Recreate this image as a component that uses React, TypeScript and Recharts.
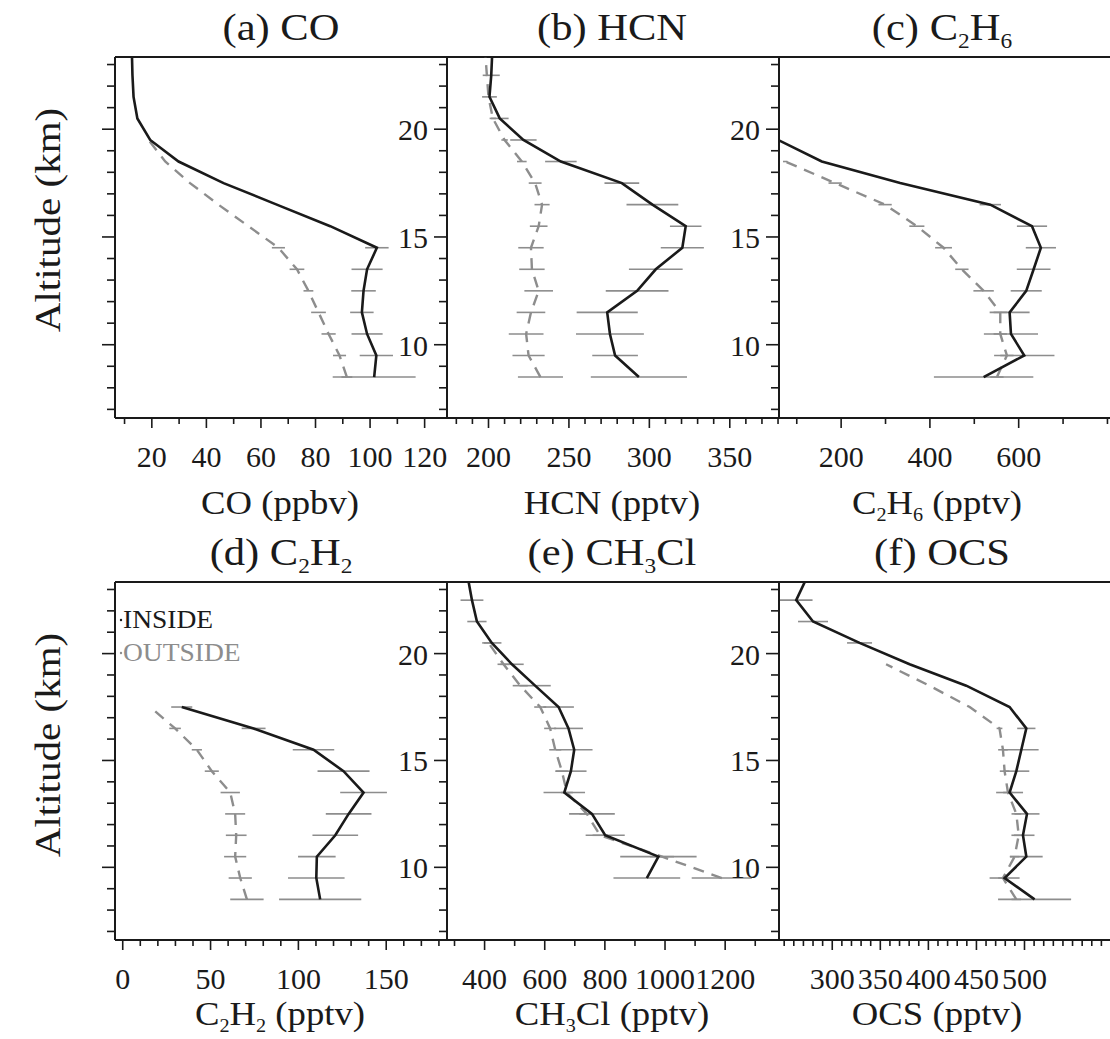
import { ScatterChart, Scatter, XAxis, YAxis, ErrorBar } from "recharts";

// altitude levels (km), bottom to top
const ALT = [8.5, 9.5, 10.5, 11.5, 12.5, 13.5, 14.5, 15.5, 16.5, 17.5, 18.5, 19.5, 20.5, 21.5, 22.5, 23.5];
const ALT_TICKS = [7, 8, 9, 10, 11, 12, 13, 14, 15, 16, 17, 18, 19, 20, 21, 22, 23];
const ALT_MAJOR = [10, 15, 20];
const ALT_DOMAIN: [number, number] = [6.6, 23.35];

// (a) CO, ppbv
const CO_IN = [101.5, 102.3, 98.9, 97, 97.6, 98.9, 102.5, 85.4, 65.8, 46.3, 29.8, 19.4, 14.7, 13.3, 12.9, 12.7];
const CO_IN_ERR = [15.2, 6.1, 5.7, 4.3, 4.5, 5.7, 4.3, 0, 0, 0, 0, 0, 0, 0, 0, 0];
const CO_OUT = [91.5, 88.8, 84.8, 81.1, 77.4, 73.2, 66.4, 55.4, 44.4, 34, 24.9, 18.8, null, null, null, null];
const CO_OUT_ERR = [2, 2.4, 2.6, 2.7, 1.8, 2.7, 2.4, 0, 0, 0, 0, 0, 0, 0, 0, 0];

// (b) HCN, pptv
const HCN_IN = [293.5, 278.7, 275.5, 273.8, 292.4, 304, 320.5, 322.6, 301.9, 282.9, 245, 221.7, 207, 200.6, 201.7, 202.3];
const HCN_IN_ERR = [29.9, 14.2, 21.1, 19, 19.5, 16.7, 13.4, 9.8, 16.1, 10.8, 9.8, 8.2, 5.5, 4.6, 5.3, 0];
const HCN_OUT = [232.3, 224.9, 223.4, 226.4, 231.2, 227, 226.4, 231.2, 233.3, 229, 220.7, 210, 202.7, 200, 199, 198];
const HCN_OUT_ERR = [14, 10, 10.8, 8.9, 8.9, 7.9, 7.9, 5.5, 4.7, 4, 3, 2, 2, 0, 0, 0];

// (c) C2H6, pptv
const C2H6_IN = [521, 612.6, 582.6, 579.6, 617, 633.7, 650, 630, 536, 333, 156.4, 58, null, null, null, null];
const C2H6_IN_ERR = [112, 68, 61, 45, 35, 38, 34, 34, 24, 0, 0, 0, 0, 0, 0, 0];
const C2H6_OUT = [551, 573.5, 558.5, 558.5, 521, 472, 430.7, 370.6, 299, 186.5, 74, null, null, null, null, null];
const C2H6_OUT_ERR = [15, 15, 15, 15, 23, 15, 19, 17, 15, 15, 5, 0, 0, 0, 0, 0];

// (d) C2H2, pptv
const C2H2_IN = [112.4, 110.2, 110.5, 121, 128.6, 137.1, 125.7, 108.6, 74.5, 33.6, null, null, null, null, null, null];
const C2H2_IN_ERR = [23.4, 16.1, 10.7, 13, 13, 13.3, 14.8, 11.8, 6.8, 6, 0, 0, 0, 0, 0, 0];
const C2H2_OUT = [70.7, 66.9, 64, 64.6, 64, 61.2, 50.7, 42.2, 29.8, 15.6, null, null, null, null, null, null];
const C2H2_OUT_ERR = [9.5, 6.6, 6.3, 5.9, 5.7, 5.5, 4, 2.9, 3.3, 0, 0, 0, 0, 0, 0, 0];

// (e) CH3Cl, pptv
const CH3CL_IN = [null, 939.5, 978, 801, 757, 665, 687, 698, 679, 646, 568, 491, 424, 374.5, 358, 345];
const CH3CL_IN_ERR = [0, 111, 127, 65, 76, 69, 52, 61, 48, 51, 52, 39, 32, 32, 38, 0];
const CH3CL_OUT = [null, 1188.7, 990, 784, 740, 673.6, 657, 635, 618, 585, 518.5, 463, 413, null, null, null];
const CH3CL_OUT_ERR = [0, 100, 40, 25, 25, 20, 20, 20, 20, 20, 25, 20, 15, 0, 0, 0];

// (f) OCS, pptv
const OCS_IN = [510.5, 479.3, 501.9, 498.4, 502.6, 484.5, 491.5, 496.7, 501.9, 484.5, 439.4, 380.5, 328.4, 280, 262.5, 273];
const OCS_IN_ERR = [38, 15.6, 17, 12, 13, 14, 13.5, 18, 9.5, 0, 0, 0, 13, 15.6, 17, 0];
const OCS_OUT = [491.5, 477.6, 489.7, 494, 491.5, 482.8, 479.3, 477.6, 474, 443, 401, 356, null, null, null, null];
const OCS_OUT_ERR = [5, 5, 5, 5, 5, 5, 5, 5, 3, 0, 0, 0, 0, 0, 0, 0];

const TITLES = ["(a) CO", "(b) HCN", "(c) C_2H_6", "(d) C_2H_2", "(e) CH_3Cl", "(f) OCS"];
const X_TITLES = ["CO (ppbv)", "HCN (pptv)", "C_2H_6 (pptv)", "C_2H_2 (pptv)", "CH_3Cl (pptv)", "OCS (pptv)"];
const Y_TITLE = "Altitude (km)";
const LEGEND = ["INSIDE", "OUTSIDE"];

const INK = "#1a1a1a";
const GRAY = "#8d8d8d";
const FONT = "'Liberation Serif', 'Times New Roman', serif";

const range = (a: number, b: number, s: number) => {
  const out: number[] = [];
  for (let v = a; v <= b + 1e-9; v += s) out.push(Math.round(v * 100) / 100);
  return out;
};

const series = (vals: (number | null)[], errs: number[]) =>
  ALT.map((alt, i) => ({ alt, v: vals[i], err: errs[i] })).filter((p) => p.v != null);

const bottomTick = (majors: number[]) => (p: any) => {
  const v = p.payload.value;
  const major = majors.includes(v);
  return (
    <g>
      <line x1={p.x} x2={p.x} y1={p.y} y2={p.y + (major ? 10 : 6)} stroke={INK} strokeWidth={1.6} />
      {major ? (
        <text x={p.x} y={p.y + 49} textAnchor="middle" fontSize={30} fontFamily={FONT} fill={INK}>
          {v}
        </text>
      ) : null}
    </g>
  );
};

const topTick = (majors: number[]) => (p: any) => {
  const major = majors.includes(p.payload.value);
  return <line x1={p.x} x2={p.x} y1={p.y} y2={p.y - (major ? 8 : 5)} stroke={INK} strokeWidth={1.6} />;
};

const leftTick = (labels: boolean) => (p: any) => {
  const v = p.payload.value;
  const major = ALT_MAJOR.includes(v);
  return (
    <g>
      <line x1={p.x} x2={p.x - (major ? 13 : 8)} y1={p.y} y2={p.y} stroke={INK} strokeWidth={1.6} />
      {labels && major ? (
        <text x={p.x - 19} y={p.y + 11} textAnchor="end" fontSize={30} fontFamily={FONT} fill={INK}>
          {v}
        </text>
      ) : null}
    </g>
  );
};

type Pt = { alt: number; v: number | null; err: number };

type PanelProps = {
  left: number;
  top: number;
  h: number;
  domain: [number, number];
  ticks: number[];
  majors: number[];
  yLabels: boolean;
  inside: Pt[];
  outside: Pt[];
};

const W = 332;
const ML = 70;
const MR = 6;
const MT = 20;
const MB = 60;

function Panel({ left, top, h, domain, ticks, majors, yLabels, inside, outside }: PanelProps) {
  // axes are 1px thick, margins shrink by 1 so the plot box stays put
  return (
    <div style={{ position: "absolute", left: left - ML, top: top - MT }}>
      <ScatterChart
        width={W + ML + MR}
        height={h + MT + MB}
        margin={{ top: MT - 1, right: MR - 1, bottom: MB - 1, left: ML - 1 }}
      >
        <XAxis
          xAxisId="b"
          type="number"
          dataKey="v"
          domain={domain}
          allowDataOverflow
          ticks={ticks}
          interval={0}
          height={1}
          tickSize={0}
          tickMargin={0}
          tickLine={false}
          axisLine={{ stroke: INK, strokeWidth: 2 }}
          tick={bottomTick(majors)}
        />
        <XAxis
          xAxisId="t"
          orientation="top"
          type="number"
          domain={domain}
          allowDataOverflow
          ticks={ticks}
          interval={0}
          height={1}
          tickSize={0}
          tickMargin={0}
          tickLine={false}
          axisLine={{ stroke: INK, strokeWidth: 2 }}
          tick={topTick(majors)}
        />
        <YAxis
          yAxisId="l"
          type="number"
          dataKey="alt"
          domain={ALT_DOMAIN}
          allowDataOverflow
          ticks={ALT_TICKS}
          interval={0}
          width={1}
          tickSize={0}
          tickMargin={0}
          tickLine={false}
          axisLine={{ stroke: INK, strokeWidth: 2 }}
          tick={leftTick(yLabels)}
        />
        <YAxis
          yAxisId="r"
          orientation="right"
          type="number"
          domain={ALT_DOMAIN}
          allowDataOverflow
          width={1}
          tick={false}
          tickLine={false}
          axisLine={{ stroke: INK, strokeWidth: 2 }}
        />
        <Scatter
          xAxisId="b"
          yAxisId="l"
          data={outside}
          fill={GRAY}
          line={{ stroke: GRAY, strokeWidth: 2.4, strokeDasharray: "11 8" }}
          lineType="joint"
          shape={() => <g />}
          isAnimationActive={false}
        >
          <ErrorBar dataKey="err" direction="x" width={0} stroke={GRAY} strokeWidth={1.6} />
        </Scatter>
        <Scatter
          xAxisId="b"
          yAxisId="l"
          data={inside}
          fill={INK}
          line={{ stroke: INK, strokeWidth: 2.6 }}
          lineType="joint"
          shape={() => <g />}
          isAnimationActive={false}
        >
          <ErrorBar dataKey="err" direction="x" width={0} stroke={GRAY} strokeWidth={1.6} />
        </Scatter>
      </ScatterChart>
    </div>
  );
}

// text with chemical subscripts written as _2, stretched a bit to the wide serif of the original
function Chem({ text, x, y, size, sx }: { text: string; x: number; y: number; size: number; sx: number }) {
  const parts = text.split(/_(\d)/);
  const sub = size * 0.22;
  return (
    <g transform={`translate(${x} ${y}) scale(${sx} 1)`}>
      <text x={0} y={0} fontSize={size} fontFamily={FONT} fill={INK} textAnchor="middle">
        {parts.map((s, i) =>
          i % 2 === 1 ? (
            <tspan key={i} fontSize={size * 0.55} dy={sub}>
              {s}
            </tspan>
          ) : (
            <tspan key={i} dy={i > 0 ? -sub : 0}>
              {s}
            </tspan>
          )
        )}
      </text>
    </g>
  );
}

const COL_LEFT = [115, 447, 779];
const ROW_TOP = [57, 582];
const ROW_H = [361, 358];
const TITLE_X = [281, 612, 942];
const XT_X = [280, 612, 937];

export default function App() {
  const panels: PanelProps[] = [
    { left: COL_LEFT[0], top: ROW_TOP[0], h: ROW_H[0], domain: [6.5, 128.2], ticks: range(10, 120, 10), majors: range(20, 120, 20), yLabels: false, inside: series(CO_IN, CO_IN_ERR), outside: series(CO_OUT, CO_OUT_ERR) },
    { left: COL_LEFT[1], top: ROW_TOP[0], h: ROW_H[0], domain: [174.2, 380.6], ticks: range(180, 380, 10), majors: [200, 250, 300, 350], yLabels: true, inside: series(HCN_IN, HCN_IN_ERR), outside: series(HCN_OUT, HCN_OUT_ERR) },
    { left: COL_LEFT[2], top: ROW_TOP[0], h: ROW_H[0], domain: [60, 808], ticks: range(100, 800, 100), majors: [200, 400, 600], yLabels: true, inside: series(C2H6_IN, C2H6_IN_ERR), outside: series(C2H6_OUT, C2H6_OUT_ERR) },
    { left: COL_LEFT[0], top: ROW_TOP[1], h: ROW_H[1], domain: [-4.4, 184.6], ticks: range(0, 180, 10), majors: [0, 50, 100, 150], yLabels: false, inside: series(C2H2_IN, C2H2_IN_ERR), outside: series(C2H2_OUT, C2H2_OUT_ERR) },
    { left: COL_LEFT[1], top: ROW_TOP[1], h: ROW_H[1], domain: [275, 1379], ticks: range(300, 1300, 100), majors: [400, 600, 800, 1000, 1200], yLabels: true, inside: series(CH3CL_IN, CH3CL_IN_ERR), outside: series(CH3CL_OUT, CH3CL_OUT_ERR) },
    { left: COL_LEFT[2], top: ROW_TOP[1], h: ROW_H[1], domain: [244.6, 590], ticks: range(250, 580, 10), majors: [300, 350, 400, 450, 500], yLabels: true, inside: series(OCS_IN, OCS_IN_ERR), outside: series(OCS_OUT, OCS_OUT_ERR) },
  ];

  return (
    <div style={{ position: "absolute", left: 0, top: 0, width: 1110, height: 1039, background: "#fff", overflow: "hidden" }}>
      {panels.map((p, i) => (
        <Panel key={i} {...p} />
      ))}
      <svg width={1110} height={1039} style={{ position: "absolute", left: 0, top: 0, pointerEvents: "none" }}>
        {TITLES.map((t, i) => (
          <Chem key={t} text={t} x={TITLE_X[i % 3]} y={i < 3 ? 40 : 565} size={38} sx={1.12} />
        ))}
        {X_TITLES.map((t, i) => (
          <Chem key={t} text={t} x={XT_X[i % 3]} y={i < 3 ? 514 : 1025} size={34} sx={1.08} />
        ))}
        {[220, 745].map((cy) => (
          <text key={cy} transform={`translate(60 ${cy}) rotate(-90) scale(1.14 1)`} textAnchor="middle" fontSize={36} fontFamily={FONT} fill={INK}>
            {Y_TITLE}
          </text>
        ))}
        <circle cx={121} cy={620} r={1.2} fill={INK} />
        <text transform="translate(123 628) scale(1.1 1)" fontSize={25} fontFamily={FONT} fill={INK}>
          {LEGEND[0]}
        </text>
        <circle cx={121} cy={653} r={1.2} fill={GRAY} />
        <text transform="translate(123 661) scale(1.1 1)" fontSize={25} fontFamily={FONT} fill={GRAY}>
          {LEGEND[1]}
        </text>
      </svg>
    </div>
  );
}
